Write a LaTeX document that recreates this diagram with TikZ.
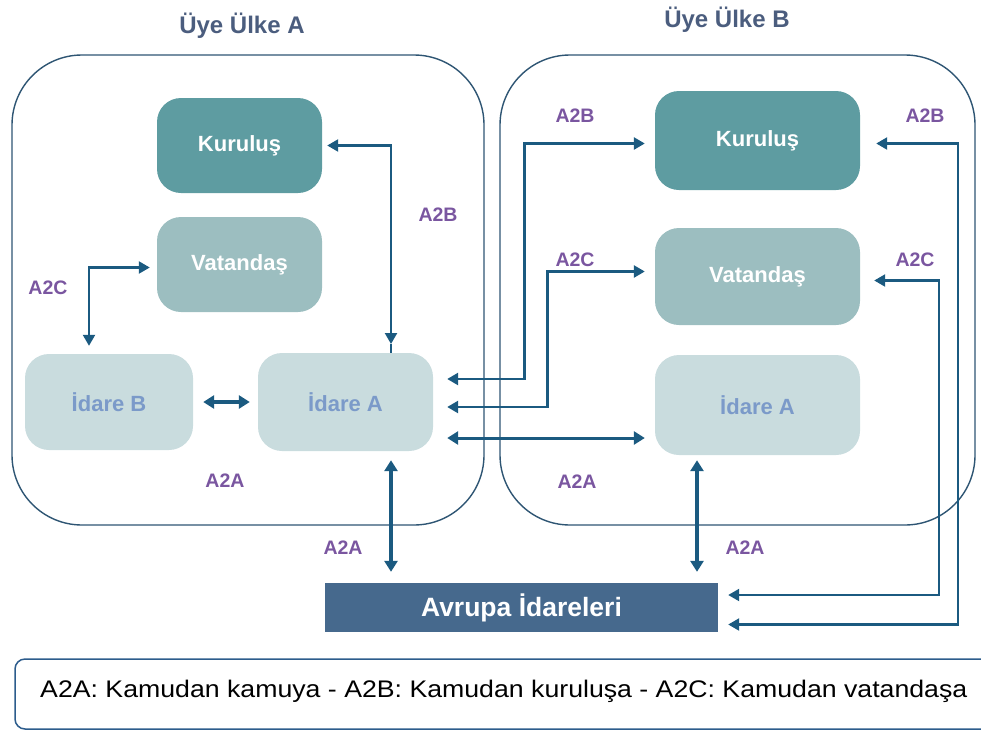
\documentclass[tikz,border=0pt]{standalone}
\usepackage{fontspec}
\setmainfont{Liberation Sans}
\newfontfamily\legendfont[FakeStretch=1.112]{Liberation Sans}
\usetikzlibrary{arrows.meta}

\definecolor{frame}{HTML}{2E5573}
\definecolor{arr}{HTML}{1B5A80}
\definecolor{lab}{HTML}{7A56A0}
\definecolor{ttl}{HTML}{4B5D7E}
\definecolor{kur}{HTML}{5E9CA1}
\definecolor{vat}{HTML}{9CBEC0}
\definecolor{ida}{HTML}{C9DCDE}
\definecolor{idatxt}{HTML}{7B9AC9}
\definecolor{avr}{HTML}{46698D}
\definecolor{legframe}{HTML}{2C5C8C}

\begin{document}
\begin{tikzpicture}[x=1pt,y=-1pt,
  country/.style={draw=frame, line width=1.4pt, rounded corners=70pt},
  inbox/.style={rounded corners=24pt, minimum width=#1, inner sep=0pt,
     font=\bfseries\fontsize{22}{26}\selectfont},
  kurbox/.style={inbox=165pt, fill=kur, text=white, minimum height=95pt},
  vatbox/.style={inbox=165pt, fill=vat, text=white, minimum height=95pt},
  idabox/.style={inbox=#1, fill=ida, text=idatxt, minimum height=96pt},
  ttlnode/.style={text=ttl, font=\bfseries\fontsize{24}{28}\selectfont, anchor=base},
  lbl/.style={text=lab, font=\bfseries\fontsize{19.5}{23}\selectfont},
  con/.style={draw=arr, line width=2.3pt, {Triangle[length=11pt,width=12pt]}-{Triangle[length=11pt,width=12pt]}},
  conthick/.style={draw=arr, line width=3.4pt, {Triangle[length=11pt,width=13pt]}-{Triangle[length=11pt,width=13pt]}},
  plain/.style={draw=arr, line width=2.3pt}
]
\useasboundingbox (0,0) rectangle (981,731);
\clip (0,0) rectangle (981,731);

% countries
\draw[country] (12,55) rectangle (484,525);
\draw[country] (500,55) rectangle (975,525);
\node[ttlnode] (tA) at (242,33) {Üye Ülke A};
\node[ttlnode] (tB) at (727,27) {Üye Ülke B};

% boxes country A
\node[kurbox] (kA) at (239.5,145.5) {Kuruluş};
\node[vatbox] (vA) at (239.5,264.5) {Vatandaş};
\node[idabox=168pt] (iB) at (109,402) {İdare B};
\node[idabox=175pt, minimum height=98pt] (iA) at (345.5,402) {İdare A};

% boxes country B
\node[kurbox, minimum width=205pt, minimum height=99pt] (kB) at (757.5,140.5) {Kuruluş};
\node[vatbox, minimum width=205pt, minimum height=97pt] (vB) at (757.5,276.5) {Vatandaş};
\node[idabox=205pt, minimum height=100pt] (ibB) at (757.5,405) {İdare A};

% European administrations
\node[fill=avr, text=white, minimum width=393pt, minimum height=49pt, inner sep=0pt,
      font=\bfseries\fontsize{26.5}{30}\selectfont] (av) at (521.5,607.5) {Avrupa İdareleri};

% connectors inside A
\coordinate (tipA) at (391,344);
\draw[con, shorten <=5pt, shorten >=0pt] (kA.east) -| (tipA);
\draw[plain] (tipA) -- (tipA |- iA.north);
\draw[con, shorten <=8pt, shorten >=7pt] ([xshift=-20pt]iB.north) |- ([yshift=-3pt]vA.west);
\draw[conthick, shorten <=10pt, shorten >=8pt] (iB.east) -- (iA.west);

% A2A to European administrations
\draw[conthick, shorten <=9pt, shorten >=11pt] ([xshift=45.5pt]iA.south) -- ([xshift=45.5pt]iA.south |- av.north);
\draw[conthick, shorten <=5pt, shorten >=11pt] ([xshift=-60.5pt]ibB.south) -- ([xshift=-60.5pt]ibB.south |- av.north);

% cross-country connectors
\draw[con, line width=2.6pt, shorten <=14pt, shorten >=10pt] ([yshift=23pt]iA.east) -- ++(91,0) |- ([yshift=-3pt]kB.west);
\draw[con, line width=2.6pt, shorten <=14pt, shorten >=10pt] ([yshift=-5pt]iA.east) -- ++(114,0) |- ([yshift=5pt]vB.west);
\draw[conthick, line width=3pt, shorten <=14pt, shorten >=10pt] ([yshift=-36pt]iA.east) -- ([yshift=-36pt]iA.east -| ibB.west);

% right side connectors from European administrations
\draw[con, shorten <=10pt, shorten >=14pt] ([yshift=12.5pt]av.east) -- ++(221,0) |- ([yshift=-4pt]vB.east);
\draw[con, shorten <=10pt, shorten >=16pt] ([yshift=-17pt]av.east) -- ++(240,0) |- ([yshift=-3pt]kB.east);

% labels
\node[lbl] (l1) at (438,215) {A2B};
\node[lbl] (l2) at (48,288) {A2C};
\node[lbl] (l3) at (225,481) {A2A};
\node[lbl] (l4) at (343,548) {A2A};
\node[lbl] (l5) at (575,116) {A2B};
\node[lbl] (l6) at (575,260) {A2C};
\node[lbl] (l7) at (577,482) {A2A};
\node[lbl] (l8) at (745,548) {A2A};
\node[lbl] (l9) at (925,116) {A2B};
\node[lbl] (l10) at (915,260) {A2C};

% legend
\draw[draw=legframe, line width=1.5pt, rounded corners=10pt] (15,659) rectangle (1000,729);
\node[anchor=base west, inner sep=0pt, font=\legendfont\fontsize{24}{28}\selectfont] (leg) at (40,697)
  {A2A: Kamudan kamuya - A2B: Kamudan kuruluşa - A2C: Kamudan vatandaşa};
\end{tikzpicture}
\end{document}
